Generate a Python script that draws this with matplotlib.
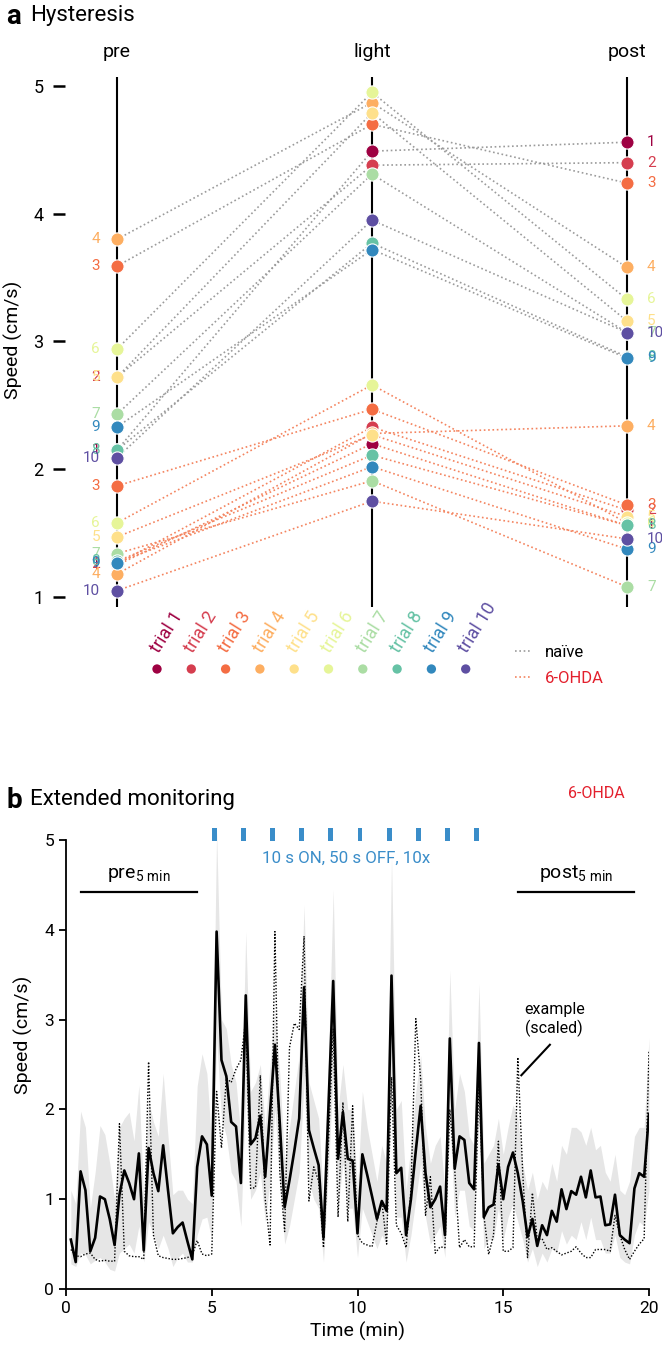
import matplotlib
matplotlib.use('Agg')
import matplotlib.pyplot as plt
from matplotlib.lines import Line2D
import numpy as np

plt.rcParams['font.family'] = ['Roboto', 'DejaVu Sans']
plt.rcParams['mathtext.fontset'] = 'custom'
plt.rcParams['mathtext.rm'] = 'Roboto'
plt.rcParams['mathtext.it'] = 'Roboto'

# ---------------- data: panel a ----------------
trial_ids = [1, 2, 3, 4, 5, 6, 7, 8, 9, 10]
trial_names = ['trial 1', 'trial 2', 'trial 3', 'trial 4', 'trial 5',
               'trial 6', 'trial 7', 'trial 8', 'trial 9', 'trial 10']
trial_colors = ['#9e0142', '#d53e4f', '#f46d43', '#fdae61', '#fee08b',
                '#e6f598', '#abdda4', '#66c2a5', '#3288bd', '#5e4fa2']
phases = ['pre', 'light', 'post']

naive_pre = [2.15, 2.72, 3.59, 3.80, 2.72, 2.94, 2.43, 2.15, 2.33, 2.09]
naive_light = [4.49, 4.38, 4.70, 4.87, 4.79, 4.95, 4.31, 3.77, 3.72, 3.95]
naive_post = [4.56, 4.40, 4.24, 3.58, 3.16, 3.33, 3.07, 2.88, 2.87, 3.07]
ohda_pre = [1.25, 1.26, 1.87, 1.18, 1.47, 1.58, 1.34, 1.28, 1.27, 1.05]
ohda_light = [2.20, 2.33, 2.47, 2.28, 2.27, 2.66, 1.91, 2.11, 2.02, 1.75]
ohda_post = [1.56, 1.68, 1.72, 2.34, 1.63, 1.58, 1.08, 1.56, 1.375, 1.455]

# ---------------- data: panel b ----------------
time_min = [(i + 1) / 6 for i in range(120)]
mean_speed = [
    0.55, 0.30, 1.31, 1.10, 0.42, 0.57,
    1.03, 1.00, 0.78, 0.49, 1.05, 1.32,
    1.18, 1.00, 1.51, 0.43, 1.57, 1.29,
    1.09, 1.60, 1.10, 0.62, 0.69, 0.74,
    0.53, 0.33, 1.36, 1.70, 1.61, 1.04,
    3.98, 2.55, 2.37, 1.86, 1.81, 1.18,
    3.27, 1.61, 1.68, 1.93, 1.25, 1.97,
    2.72, 1.85, 0.91, 1.21, 1.54, 1.90,
    3.36, 1.77, 1.57, 1.38, 0.57, 2.00,
    3.43, 1.45, 1.97, 1.45, 1.43, 0.62,
    1.50, 1.27, 1.03, 0.78, 0.98, 0.87,
    3.49, 1.29, 1.35, 0.60, 1.00, 1.54,
    2.04, 1.29, 0.91, 1.00, 1.14, 0.60,
    2.79, 1.34, 1.70, 1.66, 1.18, 1.11,
    2.74, 0.80, 0.91, 0.94, 1.39, 1.00,
    1.36, 1.52, 1.29, 0.98, 0.58, 0.78,
    0.48, 0.71, 0.60, 0.87, 0.75, 1.11,
    0.89, 1.09, 1.05, 1.25, 1.02, 1.32,
    1.02, 1.03, 0.71, 0.72, 1.05, 0.60,
    0.55, 0.51, 1.12, 1.29, 1.25, 1.95]
band_upper = [
    1.10, 0.95, 1.98, 1.80, 0.90, 1.30,
    1.82, 1.72, 1.40, 1.00, 1.80, 1.90,
    1.97, 1.65, 2.27, 1.00, 2.10, 1.86,
    1.70, 2.40, 1.70, 1.05, 1.10, 1.10,
    1.00, 0.95, 2.26, 2.62, 2.40, 1.60,
    5.10, 3.00, 2.90, 2.50, 2.30, 1.70,
    3.98, 2.20, 2.30, 2.50, 1.80, 2.50,
    3.10, 2.40, 1.40, 1.80, 2.20, 2.60,
    4.28, 2.30, 2.10, 1.90, 1.00, 2.50,
    4.45, 2.00, 2.50, 2.00, 2.00, 1.10,
    2.20, 1.80, 1.50, 1.20, 1.60, 1.40,
    4.82, 2.00, 2.10, 1.10, 1.60, 2.20,
    2.60, 1.80, 1.40, 1.60, 1.70, 1.10,
    3.55, 2.00, 2.40, 2.20, 1.70, 1.60,
    3.40, 1.40, 1.50, 1.60, 1.90, 1.50,
    1.80, 2.05, 1.90, 1.40, 1.10, 1.30,
    1.00, 1.20, 1.10, 1.40, 1.20, 1.60,
    1.50, 1.80, 1.80, 1.75, 1.60, 1.80,
    1.55, 1.60, 1.30, 1.20, 1.50, 1.10,
    1.05, 1.20, 1.70, 1.80, 1.80, 2.80]
band_lower = [
    0.28, 0.25, 0.40, 0.38, 0.28, 0.32,
    0.35, 0.30, 0.22, 0.20, 0.40, 0.45,
    0.50, 0.40, 0.70, 0.30, 0.75, 0.60,
    0.45, 0.60, 0.45, 0.25, 0.35, 0.40,
    0.30, 0.30, 0.60, 0.78, 0.80, 0.55,
    2.80, 1.90, 1.70, 1.30, 1.20, 0.70,
    2.20, 1.00, 1.10, 1.30, 0.75, 1.20,
    2.00, 1.20, 0.50, 0.70, 1.00, 1.30,
    2.30, 1.20, 1.00, 0.90, 0.30, 1.30,
    2.40, 0.90, 1.40, 0.90, 0.90, 0.35,
    0.90, 0.75, 0.60, 0.45, 0.60, 0.50,
    2.30, 0.80, 0.80, 0.30, 0.60, 1.00,
    1.40, 0.80, 0.50, 0.60, 0.70, 0.35,
    1.90, 0.80, 1.10, 1.10, 0.70, 0.65,
    1.90, 0.45, 0.55, 0.55, 0.90, 0.55,
    0.80, 0.95, 0.75, 0.55, 0.30, 0.45,
    0.25, 0.40, 0.30, 0.45, 0.40, 0.65,
    0.50, 0.60, 0.55, 0.75, 0.55, 0.80,
    0.55, 0.55, 0.40, 0.40, 0.60, 0.35,
    0.30, 0.28, 0.60, 0.75, 0.70, 1.10]
example_speed = [
    0.44, 0.37, 0.36, 0.39, 0.40, 0.33,
    0.31, 0.32, 0.31, 0.31, 1.84, 0.42,
    0.37, 0.36, 0.36, 0.33, 2.53, 0.60,
    0.37, 0.35, 0.34, 0.33, 0.33, 0.34,
    0.35, 0.38, 0.54, 0.39, 0.37, 0.39,
    2.20, 1.57, 2.35, 2.30, 2.45, 2.55,
    3.00, 1.12, 1.13, 2.38, 1.00, 0.49,
    3.98, 1.30, 0.64, 2.69, 2.96, 2.89,
    3.93, 0.98, 1.36, 1.20, 0.46, 1.60,
    2.90, 0.80, 2.08, 0.75, 2.04, 0.60,
    0.51, 0.49, 0.47, 0.75, 0.98, 0.50,
    2.36, 0.71, 0.62, 0.46, 1.10, 3.01,
    2.34, 0.82, 1.25, 0.40, 0.47, 0.46,
    2.00, 1.34, 0.46, 0.55, 0.47, 0.47,
    2.30, 0.82, 0.385, 0.60, 1.645, 0.42,
    0.42, 0.46, 2.58, 1.30, 0.35, 1.07,
    0.55, 0.56, 0.44, 0.46, 0.42, 0.38,
    0.40, 0.42, 0.47, 0.40, 0.35, 0.35,
    0.44, 0.44, 0.44, 0.42, 0.82, 0.60,
    0.44, 0.33, 0.42, 0.50, 0.56, 2.65]
stim_onsets = [5, 6, 7, 8, 9, 10, 11, 12, 13, 14]
stim_duration = 1 / 6

# ---------------- style ----------------
W, H = 662, 1354
NAIVE_C = '#9b9b9b'
OHDA_C = '#f4845f'
RED = '#e3202d'
BLUE = '#3a8dc9'
DOT = (0, (1, 1.6))

fig = plt.figure(figsize=(W / 100, H / 100), dpi=100)


def px_axes(l, t, r, b):
    return fig.add_axes([l / W, 1 - b / H, (r - l) / W, (b - t) / H])


# ================= panel a =================
ax = px_axes(65, 60, 662, 620)
ax.set_xlim(-52 / 255, 2 + 35 / 255)
ax.set_ylim(1 - 23 / 127.8, 5 + 26 / 127.8)
for s in ax.spines.values():
    s.set_visible(False)
ax.set_xticks([])
ax.set_yticks([1, 2, 3, 4, 5])
ax.tick_params(axis='y', direction='out', length=8.5, width=1.8, pad=7,
               labelsize=13)
ax.set_ylabel('Speed (cm/s)', fontsize=14)
ax.yaxis.set_label_coords(-(65 - 23) / 597, 0.5)

xpos = [0, 1, 2]
for i, name in enumerate(phases):
    ax.vlines(xpos[i], 0.92, 5.07, color='black', lw=1.5, zorder=1)
    ax.text(xpos[i], 5.265, name, ha='center', va='center', fontsize=14,
            clip_on=False)

for k in range(10):
    ax.plot(xpos, [naive_pre[k], naive_light[k], naive_post[k]],
            color=NAIVE_C, lw=1.2, ls=DOT, zorder=2)
    ax.plot(xpos, [ohda_pre[k], ohda_light[k], ohda_post[k]],
            color=OHDA_C, lw=1.2, ls=DOT, zorder=2)
for k in range(10):
    c = trial_colors[k]
    ax.plot(xpos, [naive_pre[k], naive_light[k], naive_post[k]], ls='none',
            marker='o', ms=9.5, mfc=c, mec='white', mew=0.8, zorder=3 + k)
    ax.plot(xpos, [ohda_pre[k], ohda_light[k], ohda_post[k]], ls='none',
            marker='o', ms=9.5, mfc=c, mec='white', mew=0.8, zorder=3 + k)
    for v in (naive_pre[k], ohda_pre[k]):
        ax.text(-17 / 255, v, str(trial_ids[k]), color=c, ha='right',
                va='center', fontsize=11, zorder=3 + k)
    for v in (naive_post[k], ohda_post[k]):
        ax.text(2 + 20 / 255, v, str(trial_ids[k]), color=c, ha='left',
                va='center', fontsize=11, zorder=3 + k)

# legend of trials
axl = px_axes(140, 590, 662, 720)
axl.set_xlim(1 - (157 - 140) / 34.3, 1 + (662 - 157) / 34.3)
axl.set_ylim(720, 590)
axl.axis('off')
dot_y = 669
axl.scatter(trial_ids, [dot_y] * 10, s=45, c=trial_colors, edgecolors='none')
for k in range(10):
    axl.text(trial_ids[k] + 0.15, dot_y - 13, trial_names[k], rotation=58,
             rotation_mode='anchor', ha='left', va='bottom',
             color=trial_colors[k], fontsize=13)
handles = [Line2D([], [], color=NAIVE_C, lw=1.2, ls=DOT),
           Line2D([], [], color=OHDA_C, lw=1.2, ls=DOT)]
leg = fig.legend(handles, ['naïve', '6-OHDA'], frameon=False,
                 loc='upper left', bbox_to_anchor=(500 / W, 1 - 630 / H),
                 handlelength=1.0, handletextpad=0.8, labelspacing=0.65,
                 fontsize=12)
leg.get_texts()[1].set_color(RED)

fig.text(6 / W, 1 - 16 / H, 'a', fontsize=20, fontweight='bold',
         va='center', ha='left')
fig.text(30 / W, 1 - 16 / H, 'Hysteresis', fontsize=16, va='center',
         ha='left')

# ================= panel b =================
y5 = 840
bx = px_axes(66, 780, 649, 1289)
ppu = (1289 - y5) / 5
bx.set_xlim(0, 20)
bx.set_ylim(0, 5 + (y5 - 780) / ppu)
bx.fill_between(time_min, band_lower, band_upper, color='#e6e6e6', lw=0,
                zorder=1)
bx.plot(time_min, example_speed, color='black', lw=1.0, ls=(0, (1, 1.3)),
        zorder=2)
bx.plot(time_min, mean_speed, color='black', lw=1.9, zorder=3)
bx.bar(stim_onsets, 0.14, width=stim_duration, bottom=4.99, align='edge',
       color=BLUE, zorder=3, clip_on=False)
bx.text(9.6, 4.8, '10 s ON, 50 s OFF, 10x', color=BLUE, fontsize=12.2,
        ha='center', va='center')
bx.text(18.2, 5.52, '6-OHDA', color=RED, fontsize=11.5, ha='center',
        va='center')
bx.plot([0.5, 4.5], [4.42, 4.42], color='black', lw=1.6)
bx.plot([15.5, 19.5], [4.42, 4.42], color='black', lw=1.6)
bx.text(2.5, 4.51, r'pre$_{\mathregular{5\ min}}$', fontsize=14,
        ha='center', va='bottom')
bx.text(17.5, 4.51, r'post$_{\mathregular{5\ min}}$', fontsize=14,
        ha='center', va='bottom')
bx.plot([15.62, 16.6], [2.38, 2.72], color='black', lw=1.5)
bx.text(16.75, 3.0, 'example\n(scaled)', fontsize=11.5, ha='center',
        va='center', linespacing=1.15)

for s in ('top', 'right'):
    bx.spines[s].set_visible(False)
bx.spines['left'].set_bounds(0, 5)
bx.spines['bottom'].set_bounds(0, 20)
for s in ('left', 'bottom'):
    bx.spines[s].set_linewidth(1.3)
bx.set_xticks([0, 5, 10, 15, 20])
bx.set_yticks([0, 1, 2, 3, 4, 5])
bx.tick_params(direction='out', length=5, width=1.3, labelsize=12.5)
bx.set_xlabel('Time (min)', fontsize=14, labelpad=4)
bx.set_ylabel('Speed (cm/s)', fontsize=14, labelpad=8)

fig.text(6 / W, 1 - 800 / H, 'b', fontsize=20, fontweight='bold',
         va='center', ha='left')
fig.text(30 / W, 1 - 800 / H, 'Extended monitoring', fontsize=16,
         va='center', ha='left')

fig.savefig('out.png', dpi=100)
